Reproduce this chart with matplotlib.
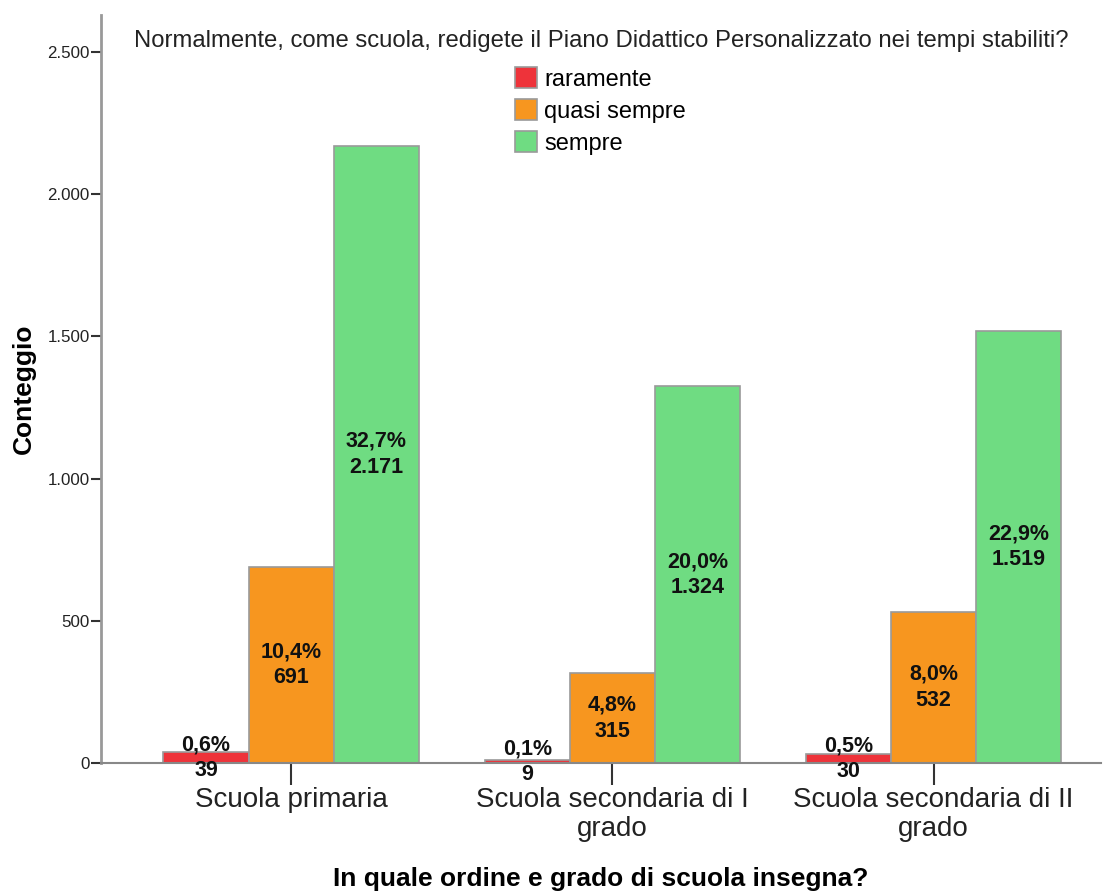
import matplotlib.pyplot as plt
import matplotlib.ticker as ticker
import numpy as np

plt.rcParams['font.family'] = ['Liberation Sans', 'DejaVu Sans']

categories = ['Scuola primaria', 'Scuola secondaria di I\ngrado', 'Scuola secondaria di II\ngrado']
series_names = ['raramente', 'quasi sempre', 'sempre']
counts = [
    [39, 9, 30],
    [691, 315, 532],
    [2171, 1324, 1519],
]
percents = [
    ['0,6%', '0,1%', '0,5%'],
    ['10,4%', '4,8%', '8,0%'],
    ['32,7%', '20,0%', '22,9%'],
]
count_labels = [
    ['39', '9', '30'],
    ['691', '315', '532'],
    ['2.171', '1.324', '1.519'],
]
colors = ['#EE333A', '#F7961F', '#6FDC82']
title = 'Normalmente, come scuola, redigete il Piano Didattico Personalizzato nei tempi stabiliti?'

fig = plt.figure(figsize=(11.07, 8.92), dpi=100)
ax = fig.add_axes([0.0912, 0.1446, 0.903, 0.8385])

x = np.arange(len(categories))
w = 0.265
for i in range(len(series_names)):
    pos = x + (i - 1) * w
    ax.bar(pos, counts[i], width=w, color=colors[i], edgecolor='#9a9a9a',
           linewidth=1.2, label=series_names[i])
    for j in range(len(categories)):
        ax.text(pos[j], counts[i][j] / 2, percents[i][j] + '\n' + count_labels[i][j],
                ha='center', va='center', fontsize=15.5, fontweight='bold',
                linespacing=1.3, color='#111111')

ax.set_xlim(-0.592, 2.52)
ax.set_ylim(0, 2630)
ax.set_yticks([0, 500, 1000, 1500, 2000, 2500])
ax.yaxis.set_major_formatter(ticker.FuncFormatter(lambda v, p: f'{int(v):,}'.replace(',', '.')))
ax.set_xticks(x)
ax.set_xticklabels(categories, fontsize=20, color='#222222', linespacing=1.15)
ax.tick_params(axis='y', labelsize=12.2, length=7, width=1.5, color='#333333', labelcolor='#222222', pad=1)
ax.tick_params(axis='x', length=16, width=1.5, color='#333333', pad=1)

for s in ['top', 'right']:
    ax.spines[s].set_visible(False)
ax.spines['left'].set_color('#999999')
ax.spines['left'].set_linewidth(2)
ax.spines['bottom'].set_color('#888888')
ax.spines['bottom'].set_linewidth(1.5)

ax.set_ylabel('Conteggio', fontsize=19, fontweight='bold', labelpad=8)
ax.set_xlabel('In quale ordine e grado di scuola insegna?', fontsize=19, fontweight='bold', labelpad=18)

ax.text(0.5, 0.965, title, transform=ax.transAxes, ha='center', va='center', fontsize=17.2, color='#222222')
ax.legend(loc='upper left', bbox_to_anchor=(0.402, 0.946), frameon=False, fontsize=17,
          handlelength=0.95, handleheight=1.0, handletextpad=0.3, labelspacing=0.35, borderpad=0)

fig.savefig('out.png', dpi=100)
